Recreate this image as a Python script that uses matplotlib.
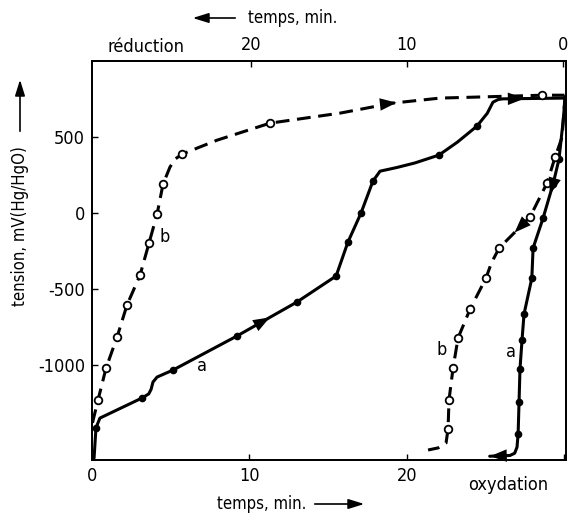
import matplotlib
matplotlib.use("Agg")
import matplotlib.pyplot as plt

plt.rcParams['font.family'] = ['DejaVu Sans']
plt.rcParams['font.stretch'] = 'condensed'

# oxidation curves, time from the left (bottom axis)
ox_a_t = [0.13, 0.25, 0.5, 3.17, 3.6, 3.75, 3.87, 4.13, 5.14, 9.2, 13.0, 15.5,
          16.25, 17.08, 17.84, 18.29, 19.35, 20.5, 22.03, 23.2, 24.44, 25.1,
          25.46, 25.8, 26.1, 30.0]
ox_a_v = [-1612, -1414, -1349, -1217, -1190, -1160, -1112, -1079, -1033, -809,
          -586, -414, -191, 0, 211, 276, 300, 330, 382, 467, 572, 657, 730,
          748, 752, 757]
ox_a_mt = [0.25, 3.17, 5.14, 9.2, 13.0, 15.5, 16.25, 17.08, 17.84, 22.03, 24.44]
ox_a_mv = [-1414, -1217, -1033, -809, -586, -414, -191, 0, 211, 382, 572]

ox_b_t = [0.03, 0.38, 0.89, 1.59, 2.22, 3.05, 3.62, 4.13, 4.51, 4.95, 5.27,
          5.71, 7.94, 11.3, 15.75, 19.1, 22.1, 24.2, 28.6, 30.0]
ox_b_v = [-1380, -1230, -1020, -816, -605, -408, -197, -7, 191, 303, 355,
          388, 480, 592, 658, 724, 757, 763, 776, 776]
ox_b_mt = [0.38, 0.89, 1.59, 2.22, 3.05, 3.62, 4.13, 4.51, 5.71, 11.3, 28.6]
ox_b_mv = [-1230, -1020, -816, -605, -408, -197, -7, 191, 388, 592, 776]

# reduction curves, time from the right (top axis)
red_a_t = [-0.13, 0.0, 0.26, 0.64, 1.28, 1.92, 2.0, 2.5, 2.63, 2.76, 2.82,
           2.88, 2.95, 3.1, 3.4, 4.7]
red_a_v = [757, 600, 355, 191, -33, -230, -428, -664, -836, -1026, -1243,
           -1454, -1540, -1580, -1595, -1600]
red_a_mt = [0.26, 0.64, 1.28, 1.92, 2.0, 2.5, 2.63, 2.76, 2.82, 2.88]
red_a_mv = [355, 191, -33, -230, -428, -664, -836, -1026, -1243, -1454]

red_b_t = [-0.13, 0.06, 0.51, 1.03, 2.12, 4.1, 4.6, 4.94, 5.96, 6.73, 7.05,
           7.31, 7.37, 7.5, 8.0, 8.65]
red_b_v = [776, 500, 368, 197, -26, -230, -330, -428, -632, -822, -1020,
           -1230, -1421, -1513, -1545, -1559]
red_b_mt = [0.51, 1.03, 2.12, 4.1, 4.94, 5.96, 6.73, 7.05, 7.31, 7.37]
red_b_mv = [368, 197, -26, -230, -428, -632, -822, -1020, -1230, -1421]

y_ticks = [500, 0, -500, -1000]
x_ticks = [0, 10, 20, 30]
x_tick_labels = ['0', '10', '20', '']
top_ticks = [20, 10, 0]

FS = 12
TS = 13


def arrow_on(ax, xs, ys, i, frac=0.5, size=15):
    # arrow head on the segment between vertex i and i+1
    x0, y0 = xs[i], ys[i]
    x1, y1 = xs[i + 1], ys[i + 1]
    xm = x0 + (x1 - x0) * frac
    ym = y0 + (y1 - y0) * frac
    xb = x0 + (x1 - x0) * (frac - 0.05)
    yb = y0 + (y1 - y0) * (frac - 0.05)
    ax.annotate('', xy=(xm, ym), xytext=(xb, yb),
                arrowprops=dict(arrowstyle='-|>,head_length=0.8,head_width=0.3',
                                color='black', lw=0, mutation_scale=size))


fig = plt.figure(figsize=(5.73, 5.14), dpi=100)
ax = fig.add_axes([0.1606, 0.105, 0.8272, 0.776])
ax2 = ax.twiny()

lw = 2.2
ax.plot(ox_a_t, ox_a_v, color='black', lw=lw, solid_capstyle='round')
ax.plot(ox_a_mt, ox_a_mv, 'o', color='black', ms=4.5)
ax.plot(ox_b_t, ox_b_v, color='black', lw=lw, ls=(0, (4.5, 2.5)))
ax.plot(ox_b_mt, ox_b_mv, 'o', mfc='white', mec='black', mew=1.3, ms=5.5)

ax2.plot(red_a_t, red_a_v, color='black', lw=lw, solid_capstyle='round')
ax2.plot(red_a_mt, red_a_mv, 'o', color='black', ms=4.5)
ax2.plot(red_b_t, red_b_v, color='black', lw=lw, ls=(0, (4.5, 2.5)))
ax2.plot(red_b_mt, red_b_mv, 'o', mfc='white', mec='black', mew=1.3, ms=5.5)

# direction arrows
arrow_on(ax, ox_a_t, ox_a_v, 9, 0.55)
arrow_on(ax, ox_a_t, ox_a_v, 24, 0.35)
arrow_on(ax, ox_b_t, ox_b_v, 15, 0.08)
arrow_on(ax2, red_a_t, red_a_v, 3, 0.3)
arrow_on(ax2, red_a_t, red_a_v, 14, 0.98)
arrow_on(ax2, red_b_t, red_b_v, 4, 0.5)

ax.set_xlim(0, 30.1)
ax.set_ylim(-1625, 1000)
ax2.set_xlim(30.19, -0.19)

ax.set_yticks(y_ticks)
ax.set_yticklabels([str(v) for v in y_ticks])
ax.set_xticks(x_ticks)
ax.set_xticklabels(x_tick_labels)
ax2.set_xticks(top_ticks)
ax2.set_xticklabels([str(v) for v in top_ticks])

for a in (ax, ax2):
    a.tick_params(direction='in', length=4, width=1, labelsize=TS, pad=5)
    for s in a.spines.values():
        s.set_linewidth(1.3)

# curve labels
ax.text(7.0, -1005, 'a', fontsize=TS, ha='center', va='center')
ax.text(4.6, -160, 'b', fontsize=TS, ha='center', va='center')
ax2.text(7.8, -900, 'b', fontsize=TS, ha='center', va='center')
ax2.text(3.35, -912, 'a', fontsize=TS, ha='center', va='center')

# axis texts
ax.text(0.963, -0.04, 'oxydation', transform=ax.transAxes, fontsize=TS,
        ha='right', va='top')
ax.text(0.032, 1.012, 'réduction', transform=ax.transAxes, fontsize=TS,
        ha='left', va='bottom')

W, H = 573, 514
fig.text(248 / W, 1 - 18 / H, 'temps, min.', fontsize=FS, ha='left', va='center')
fig.text(306 / W, 1 - 504 / H, 'temps, min.', fontsize=FS, ha='right', va='center')
fig.text(20 / W, 1 - 226 / H, 'tension, mV(Hg/HgO)', fontsize=FS, rotation=90,
         ha='center', va='center')

arr = dict(arrowstyle='-|>,head_length=0.8,head_width=0.25', color='black',
           lw=1.2, mutation_scale=12)
ax.annotate('', xy=(190 / W, 1 - 18 / H), xytext=(238 / W, 1 - 18 / H),
            xycoords='figure fraction', textcoords='figure fraction', arrowprops=arr)
ax.annotate('', xy=(367 / W, 1 - 504 / H), xytext=(312 / W, 1 - 504 / H),
            xycoords='figure fraction', textcoords='figure fraction', arrowprops=arr)
ax.annotate('', xy=(20 / W, 1 - 77 / H), xytext=(20 / W, 1 - 134 / H),
            xycoords='figure fraction', textcoords='figure fraction', arrowprops=arr)

fig.savefig('out.png', dpi=100)
